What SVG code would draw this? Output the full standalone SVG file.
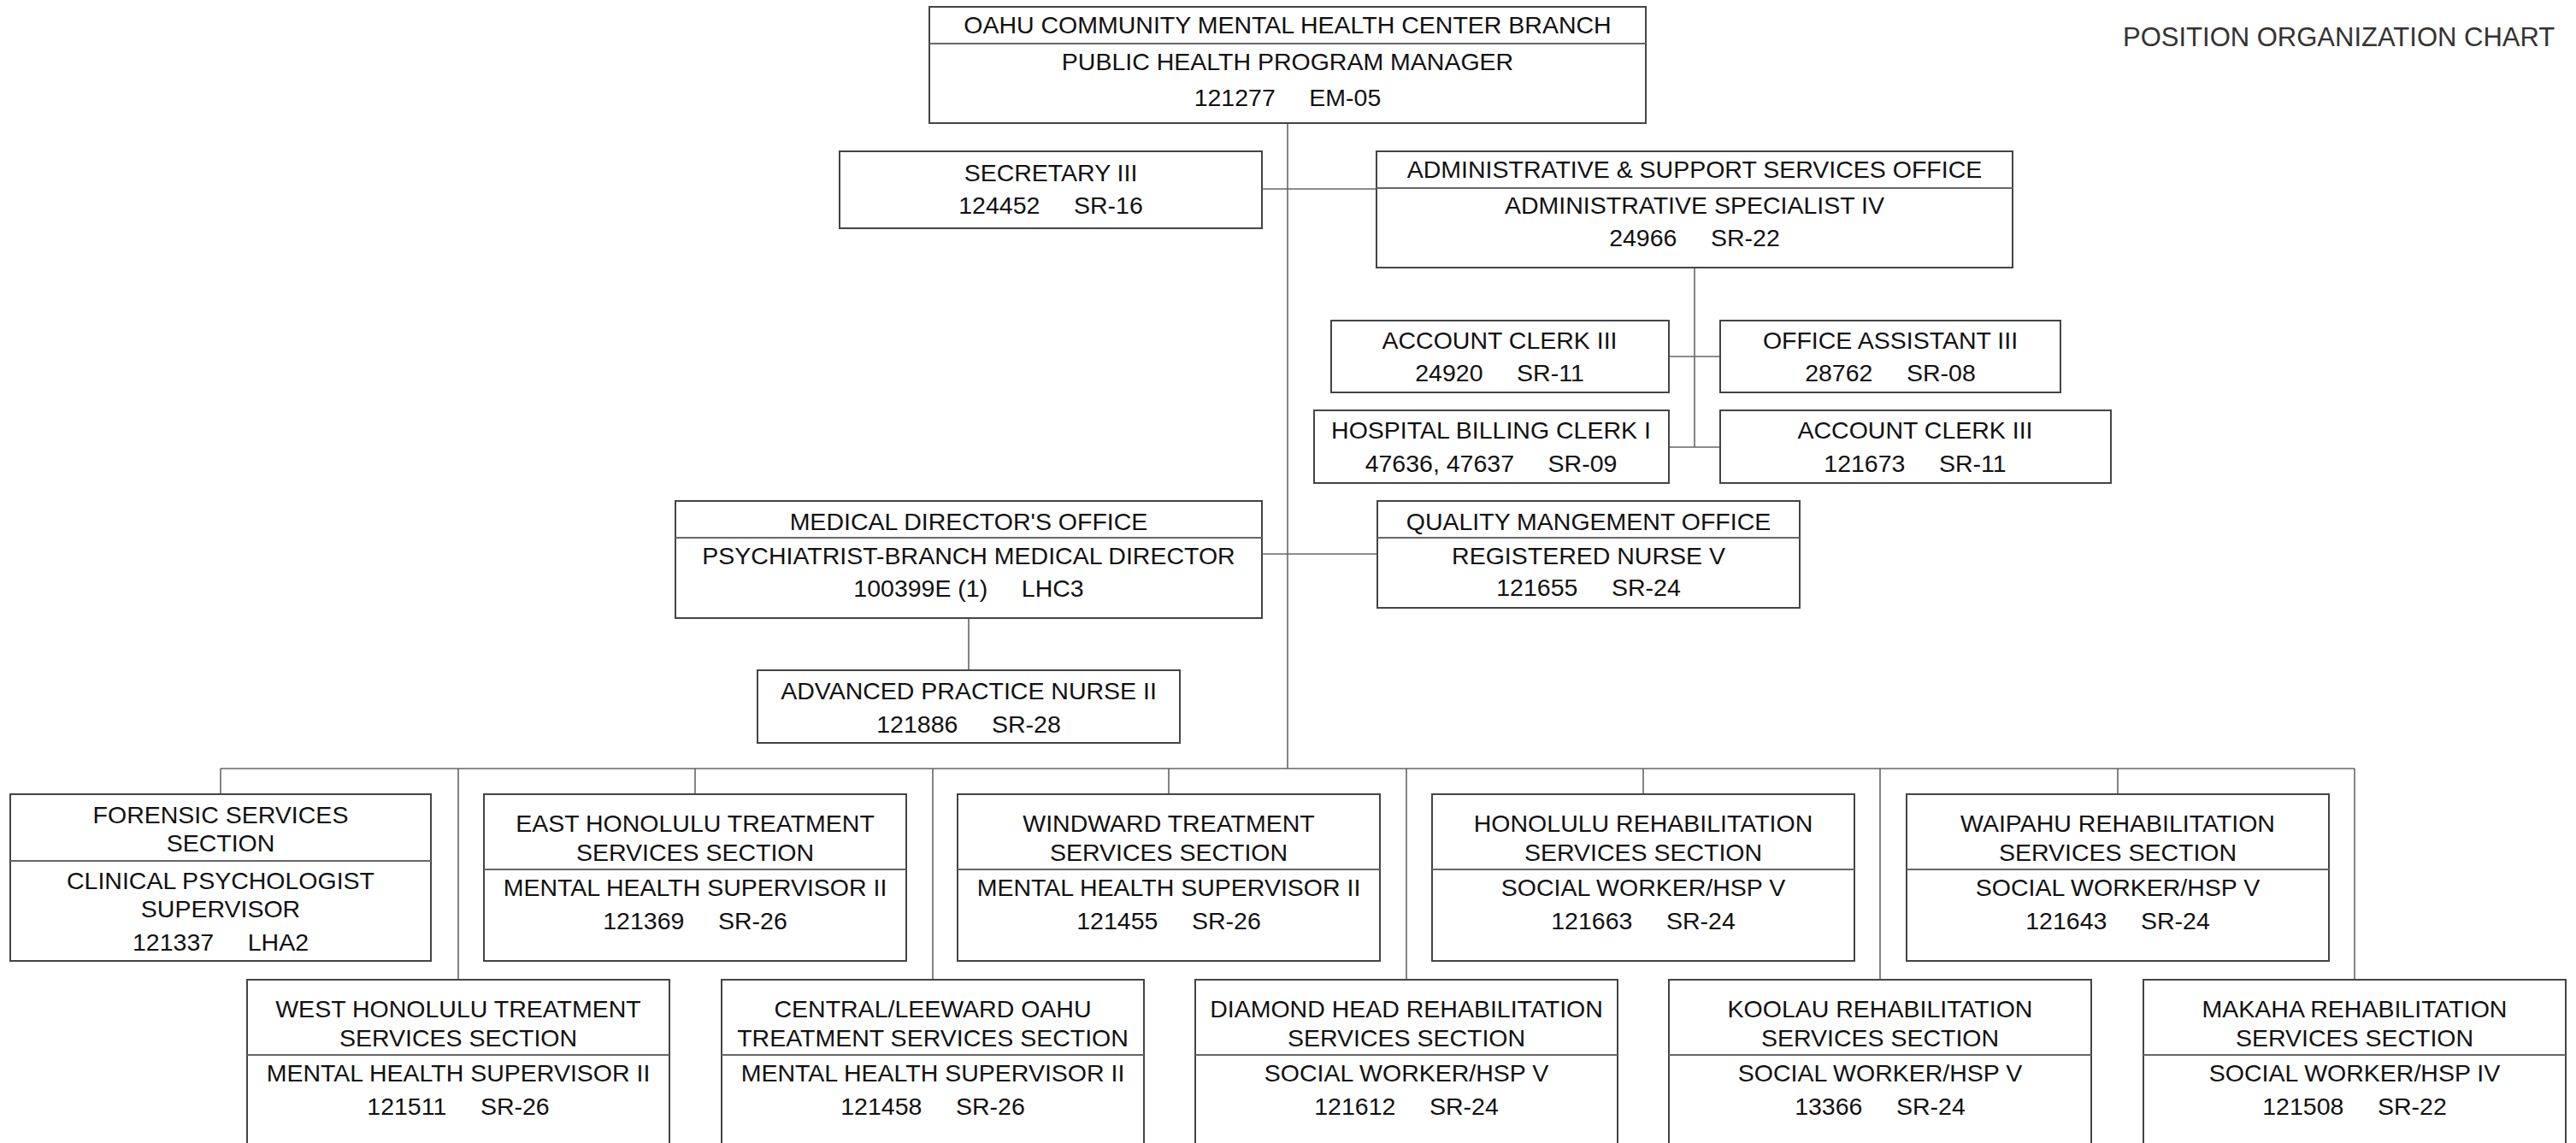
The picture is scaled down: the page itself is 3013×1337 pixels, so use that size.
<svg xmlns="http://www.w3.org/2000/svg" width="3013" height="1337" viewBox="0 0 3013 1337">
<style>
.box{fill:#fff;stroke:#444;stroke-width:2}
.dv{stroke:#666;stroke-width:2}
.c{stroke:#666;stroke-width:1.6;fill:none}
.t{font-family:"Liberation Sans",Arial,sans-serif;font-size:28.5px;fill:#111;text-anchor:middle}
.ttl{font-family:"Liberation Sans",Arial,sans-serif;font-size:31px;fill:#333}
</style>
<rect width="3013" height="1337" fill="#fff"/>
<text class="ttl" x="2483" y="54">POSITION ORGANIZATION CHART</text>
<g id="connectors">
<path class="c" d="M1506,144V899M1476,221H1610M1476,648H1611M1982,313V523M1952,417H2012M1952,523H2012M1133,723V784M258,899H2754M258,899V929M813,899V929M1367,899V929M1922,899V929M2477,899V929M536,899V1146M1091,899V1146M1645,899V1146M2199,899V1146M2754,899V1146"/>
</g>
<g id="branch">
<rect class="box" x="1087" y="8" width="838" height="136"/>
<line class="dv" x1="1087" y1="51" x2="1925" y2="51"/>
<text class="t" x="1506" y="39">OAHU COMMUNITY MENTAL HEALTH CENTER BRANCH</text>
<text class="t" x="1506" y="82">PUBLIC HEALTH PROGRAM MANAGER</text>
<text class="t" x="1506" y="124" xml:space="preserve">121277     EM-05</text>
</g>
<g id="secretary">
<rect class="box" x="982" y="177" width="494" height="90"/>
<text class="t" x="1229" y="212">SECRETARY III</text>
<text class="t" x="1229" y="250" xml:space="preserve">124452     SR-16</text>
</g>
<g id="admin">
<rect class="box" x="1610" y="177" width="744" height="136"/>
<line class="dv" x1="1610" y1="220" x2="2354" y2="220"/>
<text class="t" x="1982" y="208">ADMINISTRATIVE &amp; SUPPORT SERVICES OFFICE</text>
<text class="t" x="1982" y="250">ADMINISTRATIVE SPECIALIST IV</text>
<text class="t" x="1982" y="288" xml:space="preserve">24966     SR-22</text>
</g>
<g id="acct1">
<rect class="box" x="1557" y="375" width="395" height="84"/>
<text class="t" x="1754" y="408">ACCOUNT CLERK III</text>
<text class="t" x="1754" y="446" xml:space="preserve">24920     SR-11</text>
</g>
<g id="office">
<rect class="box" x="2012" y="375" width="398" height="84"/>
<text class="t" x="2211" y="408">OFFICE ASSISTANT III</text>
<text class="t" x="2211" y="446" xml:space="preserve">28762     SR-08</text>
</g>
<g id="hospital">
<rect class="box" x="1537" y="480" width="415" height="85"/>
<text class="t" x="1744" y="513">HOSPITAL BILLING CLERK I</text>
<text class="t" x="1744" y="552" xml:space="preserve">47636, 47637     SR-09</text>
</g>
<g id="acct2">
<rect class="box" x="2012" y="480" width="457" height="85"/>
<text class="t" x="2240" y="513">ACCOUNT CLERK III</text>
<text class="t" x="2240" y="552" xml:space="preserve">121673     SR-11</text>
</g>
<g id="medical">
<rect class="box" x="790" y="586" width="686" height="137"/>
<line class="dv" x1="790" y1="629" x2="1476" y2="629"/>
<text class="t" x="1133" y="620">MEDICAL DIRECTOR'S OFFICE</text>
<text class="t" x="1133" y="660">PSYCHIATRIST-BRANCH MEDICAL DIRECTOR</text>
<text class="t" x="1133" y="698" xml:space="preserve">100399E (1)     LHC3</text>
</g>
<g id="quality">
<rect class="box" x="1611" y="586" width="494" height="125"/>
<line class="dv" x1="1611" y1="629" x2="2105" y2="629"/>
<text class="t" x="1858" y="620">QUALITY MANGEMENT OFFICE</text>
<text class="t" x="1858" y="660">REGISTERED NURSE V</text>
<text class="t" x="1858" y="697" xml:space="preserve">121655     SR-24</text>
</g>
<g id="apn">
<rect class="box" x="886" y="784" width="494" height="85"/>
<text class="t" x="1133" y="818">ADVANCED PRACTICE NURSE II</text>
<text class="t" x="1133" y="857" xml:space="preserve">121886     SR-28</text>
</g>
<g id="forensic">
<rect class="box" x="12" y="929" width="492" height="195"/>
<line class="dv" x1="12" y1="1007" x2="504" y2="1007"/>
<text class="t" x="258" y="963">FORENSIC SERVICES</text>
<text class="t" x="258" y="996">SECTION</text>
<text class="t" x="258" y="1040">CLINICAL PSYCHOLOGIST</text>
<text class="t" x="258" y="1073">SUPERVISOR</text>
<text class="t" x="258" y="1112" xml:space="preserve">121337     LHA2</text>
</g>
<g id="east">
<rect class="box" x="566" y="929" width="494" height="195"/>
<line class="dv" x1="566" y1="1017" x2="1060" y2="1017"/>
<text class="t" x="813" y="973">EAST HONOLULU TREATMENT</text>
<text class="t" x="813" y="1007">SERVICES SECTION</text>
<text class="t" x="813" y="1048">MENTAL HEALTH SUPERVISOR II</text>
<text class="t" x="813" y="1087" xml:space="preserve">121369     SR-26</text>
</g>
<g id="windward">
<rect class="box" x="1120" y="929" width="494" height="195"/>
<line class="dv" x1="1120" y1="1017" x2="1614" y2="1017"/>
<text class="t" x="1367" y="973">WINDWARD TREATMENT</text>
<text class="t" x="1367" y="1007">SERVICES SECTION</text>
<text class="t" x="1367" y="1048">MENTAL HEALTH SUPERVISOR II</text>
<text class="t" x="1367" y="1087" xml:space="preserve">121455     SR-26</text>
</g>
<g id="honolulu-rehab">
<rect class="box" x="1675" y="929" width="494" height="195"/>
<line class="dv" x1="1675" y1="1017" x2="2169" y2="1017"/>
<text class="t" x="1922" y="973">HONOLULU REHABILITATION</text>
<text class="t" x="1922" y="1007">SERVICES SECTION</text>
<text class="t" x="1922" y="1048">SOCIAL WORKER/HSP V</text>
<text class="t" x="1922" y="1087" xml:space="preserve">121663     SR-24</text>
</g>
<g id="waipahu">
<rect class="box" x="2230" y="929" width="494" height="195"/>
<line class="dv" x1="2230" y1="1017" x2="2724" y2="1017"/>
<text class="t" x="2477" y="973">WAIPAHU REHABILITATION</text>
<text class="t" x="2477" y="1007">SERVICES SECTION</text>
<text class="t" x="2477" y="1048">SOCIAL WORKER/HSP V</text>
<text class="t" x="2477" y="1087" xml:space="preserve">121643     SR-24</text>
</g>
<g id="west">
<rect class="box" x="289" y="1146" width="494" height="194"/>
<line class="dv" x1="289" y1="1234" x2="783" y2="1234"/>
<text class="t" x="536" y="1190">WEST HONOLULU TREATMENT</text>
<text class="t" x="536" y="1224">SERVICES SECTION</text>
<text class="t" x="536" y="1265">MENTAL HEALTH SUPERVISOR II</text>
<text class="t" x="536" y="1304" xml:space="preserve">121511     SR-26</text>
</g>
<g id="central">
<rect class="box" x="844" y="1146" width="494" height="194"/>
<line class="dv" x1="844" y1="1234" x2="1338" y2="1234"/>
<text class="t" x="1091" y="1190">CENTRAL/LEEWARD OAHU</text>
<text class="t" x="1091" y="1224">TREATMENT SERVICES SECTION</text>
<text class="t" x="1091" y="1265">MENTAL HEALTH SUPERVISOR II</text>
<text class="t" x="1091" y="1304" xml:space="preserve">121458     SR-26</text>
</g>
<g id="diamond">
<rect class="box" x="1398" y="1146" width="494" height="194"/>
<line class="dv" x1="1398" y1="1234" x2="1892" y2="1234"/>
<text class="t" x="1645" y="1190">DIAMOND HEAD REHABILITATION</text>
<text class="t" x="1645" y="1224">SERVICES SECTION</text>
<text class="t" x="1645" y="1265">SOCIAL WORKER/HSP V</text>
<text class="t" x="1645" y="1304" xml:space="preserve">121612     SR-24</text>
</g>
<g id="koolau">
<rect class="box" x="1952" y="1146" width="494" height="194"/>
<line class="dv" x1="1952" y1="1234" x2="2446" y2="1234"/>
<text class="t" x="2199" y="1190">KOOLAU REHABILITATION</text>
<text class="t" x="2199" y="1224">SERVICES SECTION</text>
<text class="t" x="2199" y="1265">SOCIAL WORKER/HSP V</text>
<text class="t" x="2199" y="1304" xml:space="preserve">13366     SR-24</text>
</g>
<g id="makaha">
<rect class="box" x="2507" y="1146" width="494" height="194"/>
<line class="dv" x1="2507" y1="1234" x2="3001" y2="1234"/>
<text class="t" x="2754" y="1190">MAKAHA REHABILITATION</text>
<text class="t" x="2754" y="1224">SERVICES SECTION</text>
<text class="t" x="2754" y="1265">SOCIAL WORKER/HSP IV</text>
<text class="t" x="2754" y="1304" xml:space="preserve">121508     SR-22</text>
</g>
</svg>
